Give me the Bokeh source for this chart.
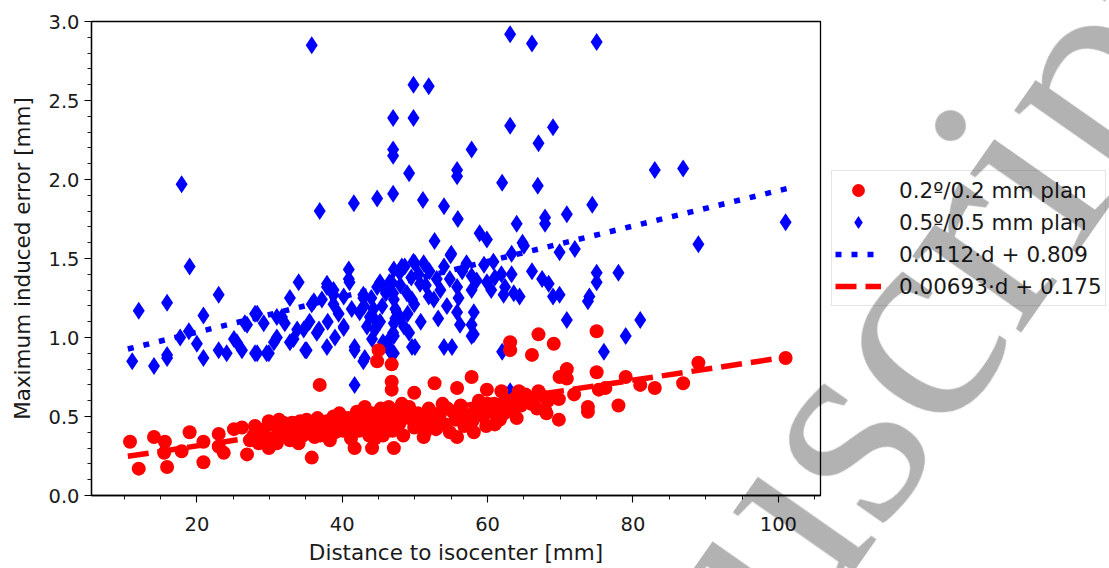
from bokeh.plotting import figure
from bokeh.models import (SingleIntervalTicker, PrintfTickFormatter, Legend, LegendItem,
                          Range1d, Div)
from bokeh.layouts import column
from bokeh.embed import file_html
from bokeh.resources import INLINE

# ---- data ----
red_d = [10.8, 12.0, 14.1, 15.6, 15.5, 15.9, 17.9, 19.0, 20.9, 20.9, 23.0, 23.0, 23.7, 25.1, 26.2,
         26.9, 27.3, 28.7, 29.9, 29.9, 31.3, 32.0, 33.1, 33.8, 35.1, 35.4, 35.8, 36.9, 36.9, 38.3,
         38.8, 40.4, 41.7, 42.0, 43.1, 44.1, 44.8, 45.0, 44.8, 46.8, 46.8, 46.8, 47.1, 48.2, 49.9,
         49.6, 52.7, 55.8, 57.8, 59.9, 63.1, 63.1, 67.0, 69.1, 66.1, 69.9, 69.8, 69.8, 64.3, 65.8,
         67.9, 67.0, 61.7, 64.0, 58.1, 55.8, 51.2, 75.0, 70.9, 70.9, 75.0, 79.0, 81.0, 83.0,
         86.9, 89.0, 101.0, 75.3, 76.2, 71.9, 73.8, 73.8, 78.0, 68.5, 61.9, 46.1, 48.5, 68.1,
         27.8, 28.5, 29.2, 30.3, 30.8, 31.6, 32.4, 32.8, 33.5, 34.2, 34.6, 35.7, 36.2, 36.6,
         37.4, 37.9, 38.6, 39.2, 39.6, 40.1, 40.8, 41.2, 41.5, 42.3, 42.6, 43.3, 43.7, 44.0,
         44.6, 45.3, 45.6, 46.0, 46.4, 46.9, 47.4, 47.8, 48.4, 48.8, 49.2, 49.9, 50.4, 50.8,
         51.4, 51.9, 52.3, 52.9, 53.4, 53.8, 54.2, 54.8, 55.2, 55.6, 56.3, 56.8, 57.3, 57.9,
         58.4, 58.8, 59.4, 59.8, 60.4, 60.9, 61.3, 61.8, 62.3, 62.8, 63.4, 63.9, 64.6, 65.2,
         66.0, 66.8, 67.5, 68.3,
         28.0, 29.5, 31.0, 31.9, 33.0, 34.0, 34.9, 36.0, 37.0, 38.0, 39.0, 39.9, 40.6, 41.9,
         43.0, 43.9, 44.5, 45.1, 45.8, 46.4, 48.0, 49.5, 50.2, 51.0, 52.0, 53.0, 54.5, 56.0,
         57.0, 58.9, 60.0, 61.0, 62.6, 64.9, 66.4]
red_err = [0.34, 0.17, 0.37, 0.34, 0.27, 0.18, 0.28, 0.40, 0.34, 0.21, 0.39, 0.31, 0.27, 0.42, 0.43,
           0.26, 0.35, 0.40, 0.47, 0.30, 0.48, 0.40, 0.46, 0.37, 0.48, 0.41, 0.24, 0.70, 0.46, 0.35,
           0.50, 0.46, 0.30, 0.53, 0.56, 0.30, 0.48, 0.92, 0.85, 0.83, 0.72, 0.67, 0.30, 0.58, 0.65,
           0.48, 0.71, 0.68, 0.75, 0.67, 0.97, 0.92, 1.02, 0.96, 0.89, 0.75, 0.61, 0.48, 0.66, 0.61,
           0.54, 0.66, 0.48, 0.49, 0.40, 0.37, 0.37, 1.04, 0.80, 0.74, 0.78, 0.75, 0.70, 0.68,
           0.71, 0.84, 0.87, 0.67, 0.68, 0.64, 0.56, 0.53, 0.57, 0.62, 0.66, 0.42, 0.54, 0.52,
           0.38, 0.33, 0.42, 0.36, 0.44, 0.39, 0.45, 0.35, 0.42, 0.47, 0.38, 0.44, 0.37, 0.49,
           0.42, 0.47, 0.39, 0.45, 0.52, 0.41, 0.49, 0.36, 0.45, 0.41, 0.50, 0.46, 0.38, 0.52,
           0.42, 0.55, 0.38, 0.46, 0.50, 0.41, 0.54, 0.45, 0.38, 0.50, 0.56, 0.43, 0.52, 0.47,
           0.40, 0.55, 0.47, 0.42, 0.51, 0.58, 0.45, 0.40, 0.53, 0.48, 0.57, 0.44, 0.51, 0.47,
           0.55, 0.60, 0.50, 0.44, 0.54, 0.58, 0.49, 0.56, 0.52, 0.60, 0.55, 0.62, 0.57, 0.64,
           0.58, 0.55, 0.63, 0.60,
           0.44, 0.37, 0.33, 0.46, 0.40, 0.33, 0.45, 0.42, 0.38, 0.44, 0.40, 0.48, 0.43, 0.47,
           0.42, 0.47, 0.36, 0.50, 0.43, 0.56, 0.47, 0.52, 0.44, 0.51, 0.45, 0.48, 0.55, 0.50,
           0.46, 0.52, 0.58, 0.45, 0.57, 0.60, 0.62]

blue_d = [35.8, 63.1, 66.1, 75.0, 49.8, 51.9, 47.0, 49.8, 63.1, 69.0, 67.0, 47.0, 47.0, 17.9, 49.2,
          57.8, 55.8, 55.8, 62.0, 66.9, 41.6, 44.8, 47.0, 36.9, 51.1, 54.0, 55.9, 83.0, 86.9, 74.4,
          70.9, 67.9, 67.9, 64.0, 52.7, 58.9, 59.9, 54.9, 64.8, 69.9, 72.0, 75.0, 75.0, 78.0, 89.0,
          101.0, 65.0, 69.9, 74.0, 76.0, 79.0, 81.0, 70.9, 73.8, 63.3, 55.0, 57.1, 48.6, 50.0, 51.2,
          59.5, 60.8, 47.9, 52.0, 53.0, 54.8, 57.8, 61.9, 63.3, 66.1, 67.5, 68.4, 46.5, 50.7, 55.8,
          57.8, 59.9, 62.4, 63.6, 64.4, 62.2, 69.0, 51.9, 52.6, 54.4, 49.9, 47.1, 47.5, 55.8, 58.1,
          57.8, 57.8, 48.5, 47.1, 50.0, 54.0, 55.1, 62.0, 46.4, 63.1, 58.1,
          12.0, 15.9, 23.0, 11.1, 14.1, 15.9, 15.9, 17.7, 18.9, 20.9, 20.0, 20.9, 23.0, 24.1, 25.1,
          26.2, 26.6, 28.0, 28.0, 29.2, 29.9, 31.0, 31.7, 32.8, 32.8, 34.0, 33.8, 34.9, 35.8, 36.5,
          37.9, 37.9, 38.8, 40.2, 41.0, 41.7, 41.7, 42.9, 42.9, 43.8, 44.1, 44.8, 45.2, 46.8, 47.1,
          47.1, 49.6, 49.6, 19.0, 40.9, 40.9, 37.9, 38.8, 36.1, 37.2, 38.8, 40.2, 42.9, 45.2, 46.5,
          47.1, 41.3, 42.4, 44.3, 44.5, 40.2, 43.4, 28.3, 26.9, 31.0, 32.1, 34.7, 35.5, 36.8, 33.3,
          35.1, 30.6, 28.3, 29.6, 25.5, 46.5, 46.5, 43.1, 41.7, 47.0, 47.3, 47.3, 47.0, 49.2, 46.8,
          48.2, 49.8, 45.9,
          44.0, 45.5, 46.0, 48.0, 48.9, 49.5, 50.5, 51.5, 53.5, 54.0, 56.5, 56.0, 58.5, 60.5,
          61.0, 43.0, 39.5, 38.0, 39.0, 44.5, 48.0, 49.0, 45.6, 50.8, 53.2, 56.2]
blue_err = [2.85, 2.92, 2.86, 2.87, 2.60, 2.59, 2.39, 2.39, 2.34, 2.33, 2.23, 2.19, 2.15, 1.97, 2.04,
            2.19, 2.06, 2.02, 1.98, 1.96, 1.85, 1.88, 1.91, 1.80, 1.87, 1.83, 1.75, 2.06, 2.07, 1.84,
            1.78, 1.76, 1.72, 1.72, 1.61, 1.66, 1.62, 1.52, 1.60, 1.54, 1.56, 1.41, 1.35, 1.41, 1.59,
            1.73, 1.58, 1.27, 1.26, 0.91, 1.01, 1.11, 1.11, 1.23, 1.53, 1.53, 1.47, 1.45, 1.47, 1.47,
            1.46, 1.48, 1.41, 1.42, 1.37, 1.37, 1.39, 1.40, 1.40, 1.42, 1.37, 1.34, 1.33, 1.34, 1.32,
            1.30, 1.35, 1.32, 1.28, 1.26, 1.27, 1.26, 1.26, 1.24, 1.20, 1.21, 1.24, 1.16, 1.16, 1.16,
            1.08, 1.01, 1.07, 1.01, 0.94, 0.94, 0.94, 0.91, 0.94, 0.66, 1.02,
            1.17, 1.22, 1.27, 0.85, 0.82, 0.87, 0.89, 1.00, 1.04, 1.14, 0.96, 0.87, 0.92, 0.90, 0.99,
            0.92, 1.09, 1.15, 0.90, 1.09, 0.90, 1.00, 1.13, 0.97, 1.25, 1.35, 1.05, 0.92, 1.21, 1.03,
            0.94, 1.32, 1.27, 1.07, 1.35, 0.92, 0.70, 0.85, 1.25, 1.13, 0.99, 1.32, 1.10, 1.35, 1.09,
            0.90, 1.24, 0.94, 1.45, 1.43, 1.37, 1.34, 1.30, 1.23, 1.24, 1.21, 1.26, 1.27, 1.35, 1.35,
            1.43, 1.18, 1.16, 1.18, 1.11, 1.06, 1.07, 1.15, 1.08, 1.13, 1.09, 1.05, 1.10, 1.05, 0.99,
            0.92, 0.97, 0.90, 0.90, 0.97, 0.99, 0.92, 0.87, 0.94, 1.28, 1.18, 1.12, 1.03, 1.03, 0.91,
            1.45, 1.48, 1.30,
            1.25, 1.20, 1.28, 1.33, 1.28, 1.38, 1.40, 1.33, 1.30, 1.45, 1.42, 1.25, 1.36, 1.30,
            1.38, 1.20, 1.15, 1.10, 1.00, 1.05, 1.12, 1.15, 0.97, 1.10, 1.12, 1.08]

fit_d = [10.5, 101.4]
blue_fit = [0.927, 1.945]
red_fit = [0.248, 0.878]

labels = ["0.2º/0.2 mm plan", "0.5º/0.5 mm plan", "0.0112·d + 0.809", "0.00693·d + 0.175"]
x_ticks_interval = 20
y_ticks_interval = 0.5

FONT = "DejaVu Sans"
FS_TICK = "19.5px"
FS_LAB = "21.5px"

fig = figure(frame_width=729, frame_height=474, output_backend="svg", toolbar_location=None,
             x_range=Range1d(5.5, 105.8), y_range=Range1d(0, 3.0),
             min_border_left=91, min_border_right=10, min_border_top=21, min_border_bottom=68,
             background_fill_color="white", border_fill_color="white")
fig.grid.visible = False
fig.outline_line_color = "black"
fig.outline_line_width = 1.3

fig.xaxis.ticker = SingleIntervalTicker(interval=x_ticks_interval, num_minor_ticks=4)
fig.yaxis.ticker = SingleIntervalTicker(interval=y_ticks_interval, num_minor_ticks=5)
fig.yaxis.formatter = PrintfTickFormatter(format="%.1f")
fig.xaxis.formatter = PrintfTickFormatter(format="%d")
for ax in (fig.xaxis[0], fig.yaxis[0]):
    ax.axis_line_color = "black"
    ax.axis_line_width = 1.3
    ax.major_tick_line_color = "black"
    ax.minor_tick_line_color = "black"
    ax.major_tick_line_width = 1.1
    ax.minor_tick_line_width = 0.9
    ax.major_tick_out = 7
    ax.major_tick_in = 0
    ax.minor_tick_out = 4
    ax.minor_tick_in = 0
    ax.major_label_text_font = FONT
    ax.major_label_text_font_size = FS_TICK
    ax.major_label_text_color = "#1a1a1a"
    ax.axis_label_text_font = FONT
    ax.axis_label_text_font_size = FS_LAB
    ax.axis_label_text_font_style = "normal"
    ax.axis_label_text_color = "#1a1a1a"
fig.xaxis.axis_label = "Distance to isocenter [mm]"
fig.yaxis.axis_label = "Maximum induced error [mm]"
fig.xaxis.major_label_standoff = 14
fig.yaxis.major_label_standoff = 5
fig.xaxis.axis_label_standoff = 6
fig.yaxis.axis_label_standoff = 10

r_blue = fig.scatter(blue_d, blue_err, marker="diamond", size=18, color="#0000ff", line_width=0)
r_red = fig.scatter(red_d, red_err, marker="circle", size=14, color="#ff0000", line_width=0)
l_blue = fig.line(fit_d, blue_fit, line_color="#0000ff", line_width=5.5, line_dash="6 10")
l_red = fig.line(fit_d, red_fit, line_color="#ff0000", line_width=5.5, line_dash="21 9")

legend = Legend(items=[LegendItem(label=labels[0], renderers=[r_red]),
                       LegendItem(label=labels[1], renderers=[r_blue]),
                       LegendItem(label=labels[2], renderers=[l_blue]),
                       LegendItem(label=labels[3], renderers=[l_red])],
                location=(11, 189))
legend.glyph_height = 32
legend.glyph_width = 46
legend.spacing = 0
legend.padding = 3
legend.margin = 0
legend.label_standoff = 18
legend.label_height = 20
legend.label_text_font = FONT
legend.label_text_font_size = FS_LAB
legend.label_text_color = "#1a1a1a"
legend.border_line_color = "#cccccc"
legend.border_line_width = 1
legend.background_fill_alpha = 0.8
fig.add_layout(legend, "right")

# watermark overlay (rotated text laid over the chart)
wm_html = ('<div style="position:fixed; left:492px; top:847px; z-index:10; pointer-events:none; '
           'transform-origin:0px 243px; transform:rotate(-55deg); white-space:nowrap; '
           'font-family:\'Liberation Serif\'; font-size:290px; line-height:290px; '
           'color:rgba(0,0,0,0.3);">Manuscript</div>')
wm = Div(text=wm_html, width=1, height=1)

p = column(fig, wm, spacing=0)
open("out.html", "w").write(file_html(p, INLINE))
